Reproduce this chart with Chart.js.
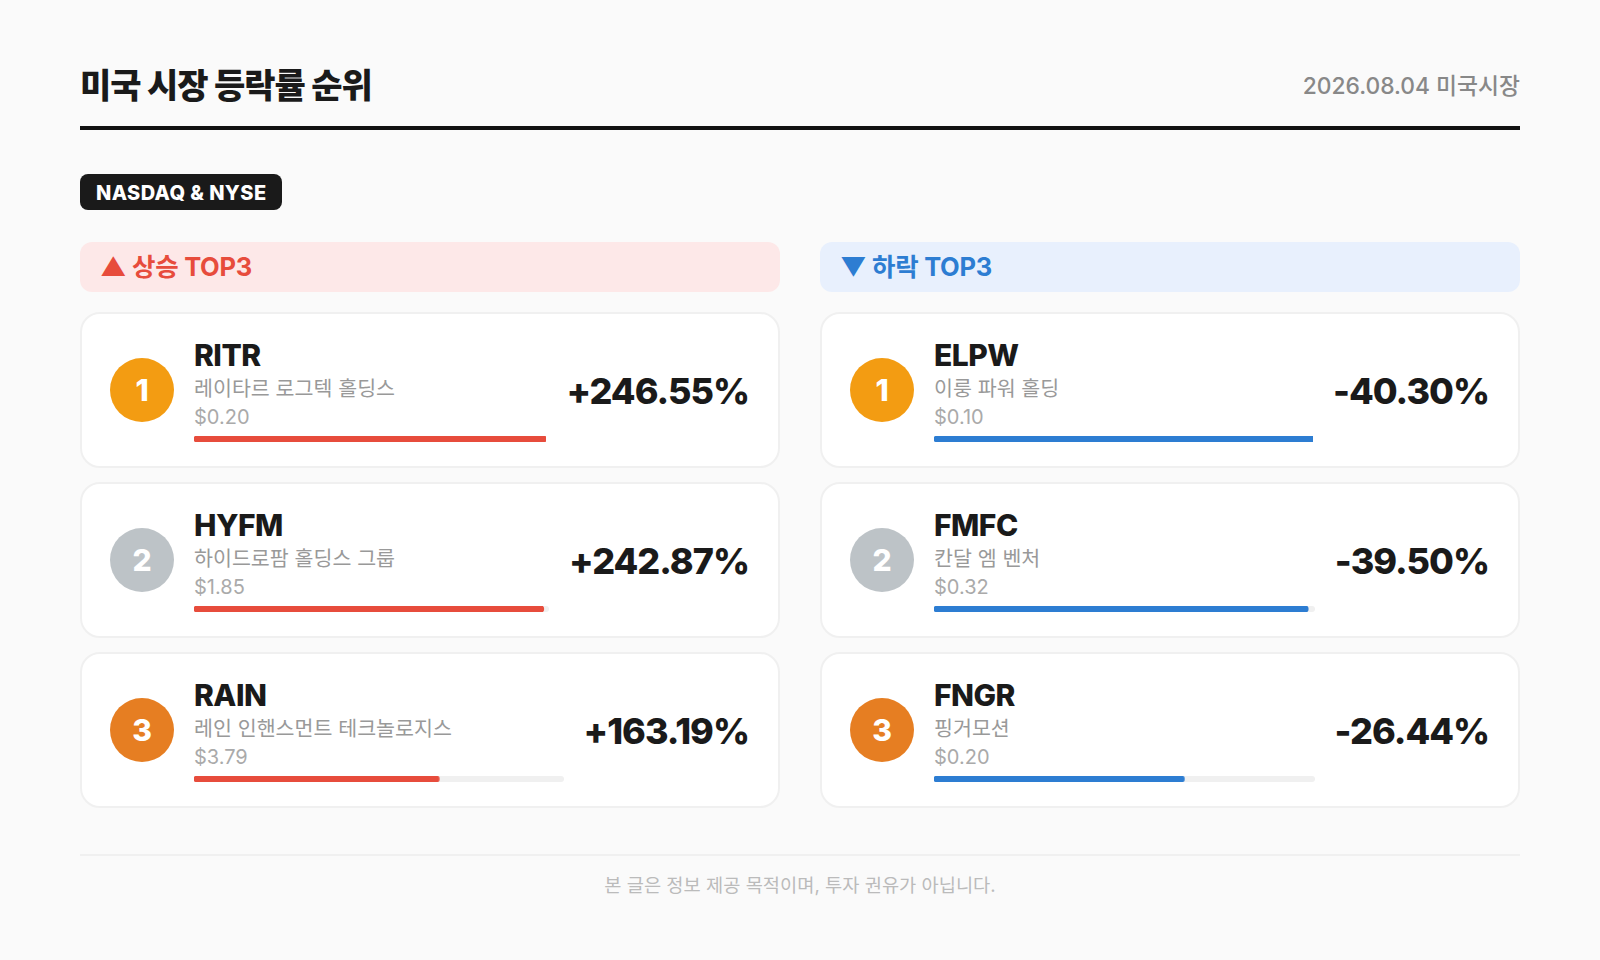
<!DOCTYPE html>
<html lang="ko">
<head>
<meta charset="utf-8">
<title>미국 시장 등락률 순위</title>
<script src="https://cdn.jsdelivr.net/npm/chart.js@4"></script>
<style>
  * { box-sizing: border-box; margin: 0; padding: 0; }
  html, body { width: 1600px; height: 960px; overflow: hidden; background: #fafafa; }
  body { font-family: Inter, "Noto Sans CJK KR", sans-serif; color: #1a1a1a; padding: 0 80px; }
  .head { height: 130px; padding-top: 61px; border-bottom: 4px solid #111; display: flex; justify-content: space-between; align-items: flex-start; }
  .head h1 { font-size: 34px; line-height: 50px; font-weight: 800; letter-spacing: -1px; }
  .head .date { font-size: 22.8px; line-height: 50px; font-weight: 500; color: #888; }
  .tag { display: inline-block; margin-top: 44px; height: 36px; line-height: 38px; padding: 0 15.5px 0 16px; border-radius: 8px; background: #1a1a1a; color: #fff; font-size: 20px; font-weight: 800; letter-spacing: .4px; }
  .cols { display: flex; gap: 40px; margin-top: 32px; }
  .col { width: 700px; }
  .band { height: 50px; line-height: 50px; padding-left: 20px; border-radius: 12px; font-size: 25.5px; font-weight: 700; letter-spacing: -.3px; margin-bottom: 20px; }
  .up .band { background: #fde8e8; color: #e74c3c; }
  .down .band { background: #e8f0fd; color: #2d7dd2; }
  .card { height: 156px; margin-bottom: 14px; padding: 0 29px 0 30px; background: #fff; border: 2px solid #f0f0f0; border-radius: 20px; display: flex; align-items: center; gap: 20px; }
  .rank { flex: none; width: 64px; height: 64px; margin-left: -2px; border-radius: 50%; color: #fff; font-size: 30px; font-weight: 800; line-height: 64px; text-align: center; }
  .info { flex: 1; min-width: 0; }
  .ticker { font-size: 30px; line-height: 36px; font-weight: 800; letter-spacing: -.5px; position: relative; top: -1.5px; }
  .name { font-size: 20.6px; line-height: 28px; color: #999; }
  .price { font-size: 20px; line-height: 28px; color: #aaa; }
  .track { height: 6px; margin-top: 5px; position: relative; border-radius: 3px; background: #f0f0f0; }
  .pct { flex: none; font-size: 36px; font-weight: 800; letter-spacing: -1px; position: relative; top: 1px; }
  .foot { margin-top: 31.5px; border-top: 2px solid #f0f0f0; padding-top: 14px; text-align: center; font-size: 18.7px; color: #bbb; }
</style>
</head>
<body>
<div class="head">
  <h1>미국 시장 등락률 순위</h1>
  <div class="date">2026.08.04 미국시장</div>
</div>
<div class="tag">NASDAQ &amp; NYSE</div>
<div class="cols">
  <div class="col up" id="upCol"><div class="band">▲ 상승 TOP3</div></div>
  <div class="col down" id="downCol"><div class="band">▼ 하락 TOP3</div></div>
</div>
<div class="foot">본 글은 정보 제공 목적이며, 투자 권유가 아닙니다.</div>

<script>
const upTickers = ["RITR", "HYFM", "RAIN"];
const upNames = ["레이타르 로그텍 홀딩스", "하이드로팜 홀딩스 그룹", "레인 인핸스먼트 테크놀로지스"];
const upPrices = ["$0.20", "$1.85", "$3.79"];
const upPcts = [246.55, 242.87, 163.19];

const downTickers = ["ELPW", "FMFC", "FNGR"];
const downNames = ["이룽 파워 홀딩", "칸달 엠 벤처", "핑거모션"];
const downPrices = ["$0.10", "$0.32", "$0.20"];
const downPcts = [-40.30, -39.50, -26.44];

const rankColors = ["#f39c12", "#bdc3c7", "#e67e22"];

/*******************************************************
 * drawBar(canvas, value, maxVal, color)
 *******************************************************/
function drawBar(canvas, value, maxVal, color) {
  new Chart(canvas.getContext("2d"), {
    type: "bar",
    data: {
      labels: [""],
      datasets: [{
        data: [value],
        backgroundColor: color,
        borderRadius: 3,
        borderSkipped: false,
        barPercentage: 1,
        categoryPercentage: 1
      }]
    },
    options: {
      indexAxis: "y",
      responsive: true,
      maintainAspectRatio: false,
      animation: false,
      events: [],
      layout: { padding: 0 },
      plugins: { legend: { display: false }, tooltip: { enabled: false } },
      scales: {
        x: { display: false, min: 0, max: maxVal },
        y: { display: false }
      }
    }
  });
}

/*******************************************************
 * addCards(colId, tickers, names, prices, pcts, color)
 *******************************************************/
function addCards(colId, tickers, names, prices, pcts, color) {
  const col = document.getElementById(colId);
  const sizes = pcts.map(Math.abs);
  const maxVal = Math.max(...sizes);

  tickers.forEach((ticker, i) => {
    const label = (pcts[i] > 0 ? "+" : "") + pcts[i].toFixed(2) + "%";
    const card = document.createElement("div");
    card.className = "card";
    card.innerHTML = `
      <div class="rank" style="background:${rankColors[i]}">${i + 1}</div>
      <div class="info">
        <div class="ticker">${ticker}</div>
        <div class="name">${names[i]}</div>
        <div class="price">${prices[i]}</div>
        <div class="track"><canvas></canvas></div>
      </div>
      <div class="pct">${label}</div>
    `;
    col.appendChild(card);
    drawBar(card.querySelector("canvas"), sizes[i], maxVal, color);
  });
}

addCards("upCol", upTickers, upNames, upPrices, upPcts, "#e74c3c");
addCards("downCol", downTickers, downNames, downPrices, downPcts, "#2d7dd2");
</script>
</body>
</html>
